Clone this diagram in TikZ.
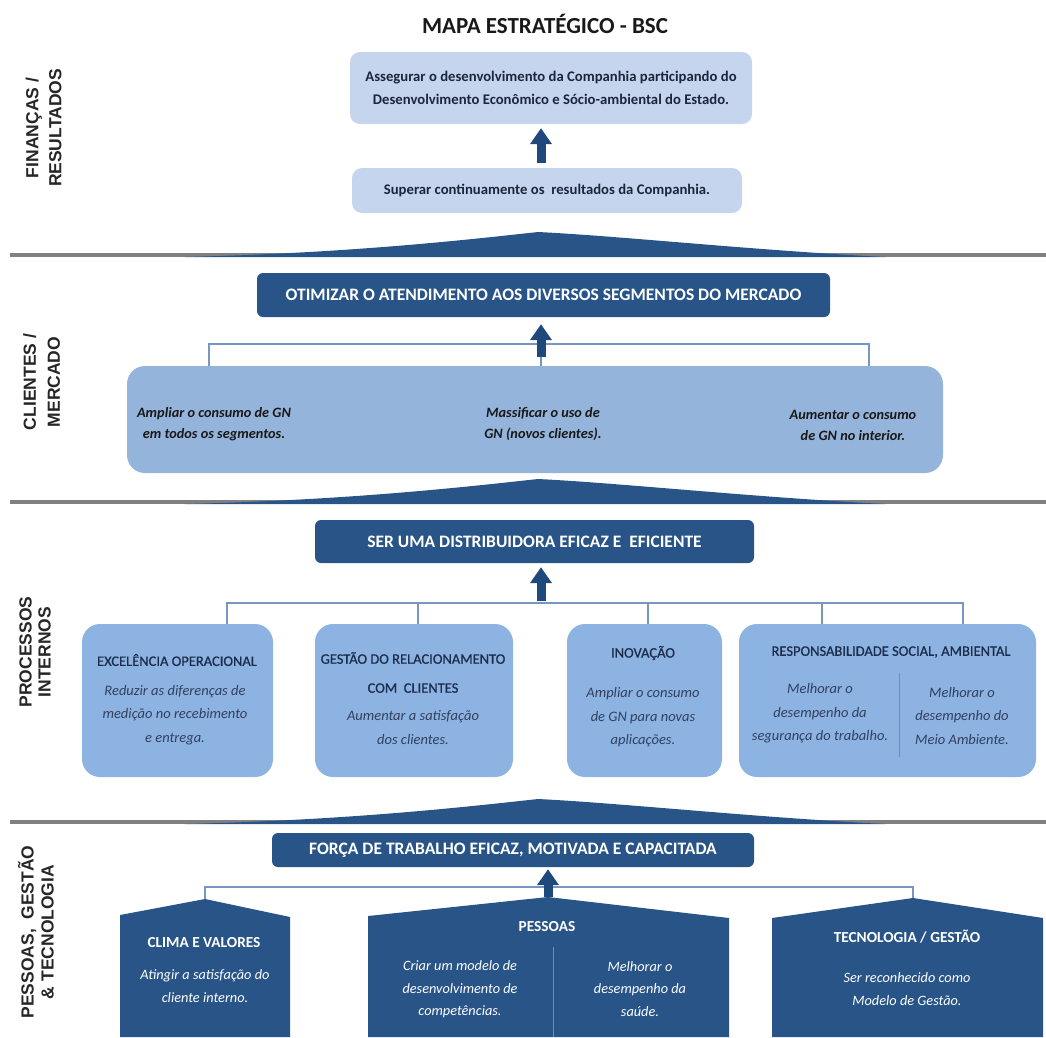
\documentclass[tikz,border=0pt]{standalone}
\usepackage{fontspec}
\setmainfont{Carlito}
\newfontfamily\sidefont{Liberation Sans}
\newfontfamily\medfont{Carlito}[FakeBold=0.7]
\usetikzlibrary{arrows.meta}

\definecolor{navy}{RGB}{40,84,135}
\definecolor{arrowblue}{RGB}{31,73,125}
\definecolor{paleblue}{RGB}{197,213,237}
\definecolor{midblue}{RGB}{149,180,219}
\definecolor{procblue}{RGB}{141,179,226}
\definecolor{linkblue}{RGB}{120,150,190}
\definecolor{sepgray}{RGB}{128,128,128}
\definecolor{inktext}{RGB}{28,38,58}
\definecolor{proctext}{RGB}{28,44,75}
\definecolor{procital}{RGB}{50,64,95}
\definecolor{splitline}{RGB}{110,140,185}

\newcommand{\sepband}[1]{%
  \draw[sepgray, line width=4pt] (10,#1) -- (1046,#1);
  \fill[navy] (185,#1+2) .. controls (350,#1-2) and (465,#1-15) .. (538,#1-23)
    .. controls (620,#1-19) and (750,#1-5) .. (885,#1+2) -- cycle;
}

\tikzset{
  pale/.style={fill=paleblue, rounded corners=10pt, inner sep=0pt, text=inktext,
    font=\bfseries\fontsize{14.7}{23}\selectfont, align=center},
  headbox/.style={fill=navy, rounded corners=6pt, inner sep=0pt, text=white,
    font=\bfseries\fontsize{17.5}{20}\selectfont},
  midbox/.style={fill=midblue, rounded corners=18pt, inner sep=0pt},
  procbox/.style={fill=procblue, rounded corners=18pt, inner sep=0pt},
  link/.style={draw=linkblue, line width=1.5pt},
  upflow/.style={draw=arrowblue, line width=9pt, -{Triangle[width=21pt,length=16pt]}},
  sidelabel/.style={rotate=90, sidefont, align=center, text=black!85},
  sidefont/.style={font=\sidefont\bfseries\fontsize{17.5}{#1}\selectfont},
  custtext/.style={font=\bfseries\itshape\fontsize{14.3}{21}\selectfont, align=center, text=black!90},
  proctitle/.style={font=\medfont\fontsize{14.5}{29}\selectfont, align=center, text=proctext},
  procitem/.style={font=\itshape\fontsize{14.5}{23.5}\selectfont, align=center, text=procital},
  peoptitle/.style={font=\bfseries\fontsize{15.3}{18}\selectfont, align=center, text=white},
  peopitem/.style={font=\itshape\fontsize{14.3}{22.5}\selectfont, align=center, text=white},
}

\begin{document}
\begin{tikzpicture}[x=1pt, y=-1pt]
\useasboundingbox (0,0) rectangle (1046,1037);

% title
\node[font=\bfseries\fontsize{23}{26}\selectfont, text=black!90] (title) at (545,24) {MAPA ESTRATÉGICO - BSC};

% side labels
\node[sidelabel, sidefont=23] (lblfin) at (43.5,128) {FINANÇAS /\\RESULTADOS};
\node[sidelabel, sidefont=24] (lblcli) at (41.5,382) {CLIENTES /\\MERCADO};
\node[sidelabel, sidefont=19] (lblproc) at (35,652) {PROCESSOS\\INTERNOS};
\node[sidelabel, sidefont=20] (lblpess) at (36,932) {PESSOAS,~ GESTÃO\\\& TECNOLOGIA};

% separators
\sepband{255}
\sepband{502}
\sepband{822}

% ---- finances / results
\node[pale, minimum width=402pt, minimum height=72pt] (fin1) at (551,88)
  {Assegurar o desenvolvimento da Companhia participando do\\Desenvolvimento Econômico e Sócio-ambiental do Estado.};
\node[pale, minimum width=390pt, minimum height=45pt] (fin2) at (547,190.5)
  {Superar continuamente os~ resultados da Companhia.};
\coordinate (axis) at (541,0);
\draw[upflow, shorten <=5pt, shorten >=4pt] (fin2.north -| axis) -- (fin1.south -| axis);

% ---- customers / market
\node[headbox, minimum width=573pt, minimum height=44pt] (cli) at (543.5,295)
  {OTIMIZAR O ATENDIMENTO AOS DIVERSOS SEGMENTOS DO MERCADO};
\node[midbox, minimum width=816pt, minimum height=107pt] (clibox) at (535,419.5) {};
\coordinate (cliL) at (209,344);
\coordinate (cliR) at (869,344);
\draw[link] (clibox.north -| cliL) -- (cliL) -- (cliR) -- (clibox.north -| cliR);
\draw[link] (clibox.north -| axis) -- (cliL -| axis);
\draw[upflow, shorten <=9pt, shorten >=7pt] (clibox.north -| axis) -- (cli.south -| axis);
\node[custtext] (cli1) at (214,424) {Ampliar o consumo de GN\\em todos os segmentos.};
\node[custtext] (cli2) at (543,424) {Massificar o uso de\\GN (novos clientes).};
\node[custtext] (cli3) at (853,425) {Aumentar o consumo\\de GN no interior.};

% ---- internal processes
\node[headbox, minimum width=439pt, minimum height=43pt] (proc) at (534.5,541.5)
  {SER UMA DISTRIBUIDORA EFICAZ E~ EFICIENTE};
\node[procbox, minimum width=191pt, minimum height=153pt] (pA) at (177.5,700.5) {};
\node[procbox, minimum width=198pt, minimum height=153pt] (pB) at (414,700.5) {};
\node[procbox, minimum width=155pt, minimum height=153pt] (pC) at (644.5,700.5) {};
\node[procbox, minimum width=297pt, minimum height=153pt] (pD) at (887.5,700.5) {};
\coordinate (procL) at (227,603);
\coordinate (procB) at (418,603);
\coordinate (procC) at (648,603);
\coordinate (procD) at (822,603);
\coordinate (procR) at (963,603);
\coordinate (procJ) at (541,603);
\draw[link] (pA.north -| procL) -- (procL) -- (procR) -- (pD.north -| procR);
\draw[link] (procB) -- (pB.north -| procB);
\draw[link] (procC) -- (pC.north -| procC);
\draw[link] (procD) -- (pD.north -| procD);
\draw[upflow, shorten <=2pt, shorten >=4pt] (procJ) -- (proc.south -| procJ);

\node[proctitle] (pAt) at (177,660) {EXCELÊNCIA OPERACIONAL};
\node[procitem] (pAi) at (175,715) {Reduzir as diferenças de\\medição no recebimento\\e entrega.};
\node[proctitle] (pBt) at (413,672.5) {GESTÃO DO RELACIONAMENTO\\COM~ CLIENTES};
\node[procitem] (pBi) at (413,727.5) {Aumentar a satisfação\\dos clientes.};
\node[proctitle] (pCt) at (643,653) {INOVAÇÃO};
\node[procitem] (pCi) at (643,717.5) {Ampliar o consumo\\de GN para novas\\aplicações.};
\node[proctitle] (pDt) at (891,652) {RESPONSABILIDADE SOCIAL, AMBIENTAL};
\node[procitem] (pDi1) at (820,713.5) {Melhorar o\\desempenho da\\segurança do trabalho.};
\node[procitem] (pDi2) at (962,716) {Melhorar o\\desempenho do\\Meio Ambiente.};
\draw[draw=splitline, line width=1pt] (899,673) -- (899,757);

% ---- people, management & technology
\node[headbox, minimum width=482pt, minimum height=34pt] (peop) at (513,850)
  {FORÇA DE TRABALHO EFICAZ, MOTIVADA E CAPACITADA};

\coordinate (roofA) at (205,899);
\coordinate (roofB) at (548,897);
\coordinate (roofC) at (913,898);
\fill[navy] (120,1037) -- (120,915) -- (roofA) -- (290,917) -- (290,1037) -- cycle;
\fill[navy] (368,1037) -- (368,916) -- (roofB) -- (729,918) -- (729,1037) -- cycle;
\fill[navy] (772,1037) -- (772,918) -- (roofC) -- (1043,918) -- (1043,1037) -- cycle;

\coordinate (peopL) at (205,887);
\coordinate (peopR) at (913,887);
\draw[link] (roofA) -- (peopL) -- (peopR) -- (roofC);
\draw[link] (roofB) -- (peopL -| roofB);
\draw[upflow, shorten <=0pt, shorten >=2pt] (roofB) -- (peop.south -| roofB);

\node[peoptitle] (hA) at (204,943) {CLIMA E VALORES};
\node[peopitem] (hAi) at (205,986) {Atingir a satisfação do\\cliente interno.};
\node[peoptitle] (hB) at (547,927) {PESSOAS};
\node[peopitem] (hBi1) at (460,989.5) {Criar um modelo de\\desenvolvimento de\\competências.};
\node[peopitem] (hBi2) at (640,989) {Melhorar o\\desempenho da\\saúde.};
\draw[draw=splitline, line width=1pt] (553,947) -- (553,1037);
\node[peoptitle] (hC) at (907,937) {TECNOLOGIA / GESTÃO};
\node[peopitem] (hCi) at (907,989) {Ser reconhecido como\\Modelo de Gestão.};
\end{tikzpicture}
\end{document}
